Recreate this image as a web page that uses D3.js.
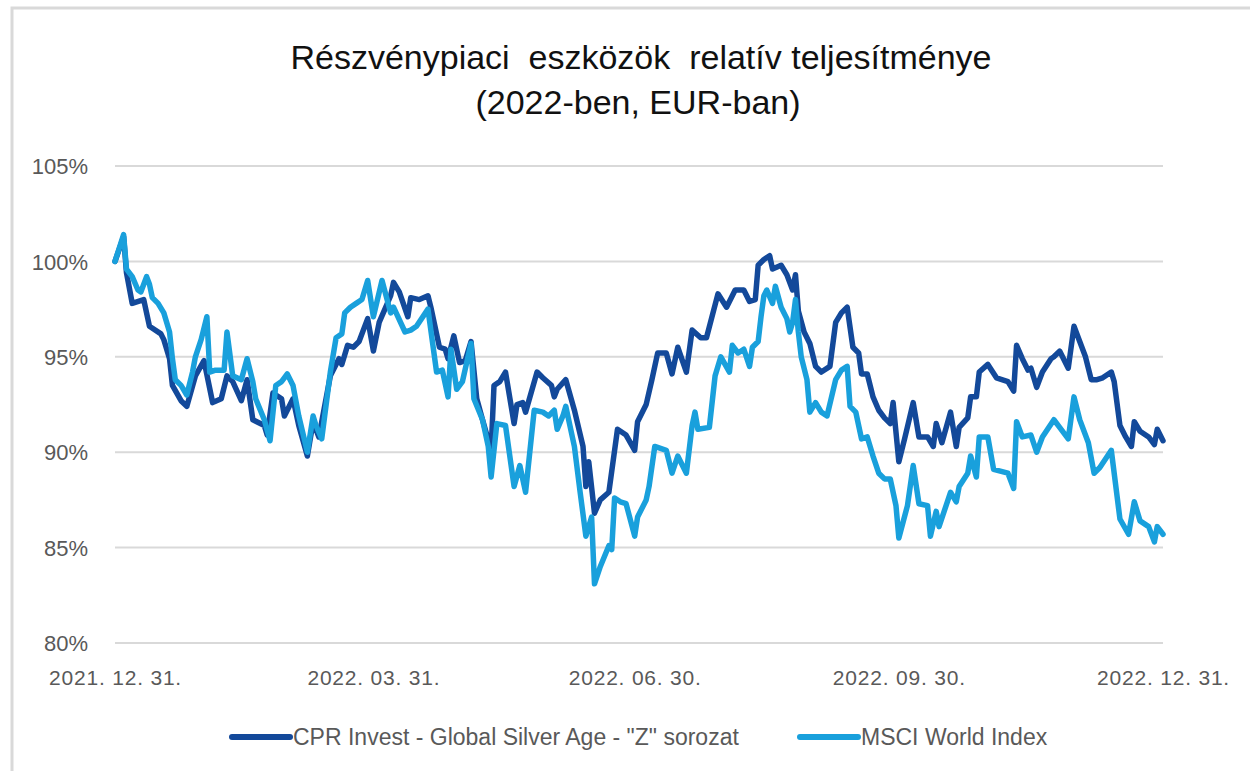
<!DOCTYPE html>
<meta charset="utf-8">
<style>
body { margin: 0; background: #fff; }
svg { font-family: "Liberation Sans", Arial, sans-serif; }
.grid line { stroke: #d9d9d9; stroke-width: 2px; }
.axis text { fill: #595959; font-size: 22px; }
.xaxis text { fill: #595959; font-size: 21px; letter-spacing: 0.8px; }
.title { font-size: 34px; fill: #111; white-space: pre; }
.legend text { fill: #595959; font-size: 23px; }
.line { fill: none; stroke-width: 5.5px; stroke-linejoin: round; stroke-linecap: round; }
</style>
<body>
<script src="https://cdn.jsdelivr.net/npm/d3@7"></script>
<script>

var width = 1250,
    height = 771;

var seriesNames = ["CPR Invest - Global Silver Age - \"Z\" sorozat", "MSCI World Index"],
    seriesColors = ["#13499a", "#19a0dc"];

var yTicks = [80, 85, 90, 95, 100, 105];
var xTicks = ["2021-12-31", "2022-03-31", "2022-06-30", "2022-09-30", "2022-12-31"];

// CPR Invest - Global Silver Age "Z"
var cprDates = ["2021-12-31","2022-01-03","2022-01-04","2022-01-06","2022-01-10","2022-01-12","2022-01-16","2022-01-17","2022-01-19","2022-01-20",
  "2022-01-23","2022-01-25","2022-01-28","2022-01-31","2022-02-03","2022-02-06","2022-02-08","2022-02-10","2022-02-13","2022-02-15",
  "2022-02-17","2022-02-21","2022-02-22","2022-02-24","2022-02-27","2022-02-28","2022-03-03","2022-03-05","2022-03-08","2022-03-10",
  "2022-03-12","2022-03-16","2022-03-19","2022-03-20","2022-03-22","2022-03-24","2022-03-26","2022-03-29","2022-03-31","2022-04-02",
  "2022-04-04","2022-04-06","2022-04-07","2022-04-09","2022-04-12","2022-04-13","2022-04-16","2022-04-19","2022-04-20","2022-04-23",
  "2022-04-25","2022-04-26","2022-04-28","2022-04-30","2022-05-02","2022-05-04","2022-05-06","2022-05-08","2022-05-11","2022-05-12",
  "2022-05-14","2022-05-16","2022-05-19","2022-05-20","2022-05-22","2022-05-23","2022-05-27","2022-05-29","2022-06-01","2022-06-02",
  "2022-06-03","2022-06-06","2022-06-09","2022-06-12","2022-06-13","2022-06-14","2022-06-16","2022-06-18","2022-06-21","2022-06-24",
  "2022-06-27","2022-06-30","2022-07-01","2022-07-04","2022-07-06","2022-07-08","2022-07-11","2022-07-13","2022-07-15","2022-07-18",
  "2022-07-20","2022-07-23","2022-07-25","2022-07-29","2022-08-01","2022-08-04","2022-08-07","2022-08-09","2022-08-11","2022-08-12",
  "2022-08-14","2022-08-16","2022-08-17","2022-08-20","2022-08-22","2022-08-24","2022-08-25","2022-08-26","2022-08-28","2022-08-30",
  "2022-09-01","2022-09-03","2022-09-06","2022-09-08","2022-09-10","2022-09-12","2022-09-14","2022-09-16","2022-09-17","2022-09-19",
  "2022-09-21","2022-09-23","2022-09-25","2022-09-27","2022-09-28","2022-09-30","2022-10-02","2022-10-05","2022-10-07","2022-10-10",
  "2022-10-12","2022-10-13","2022-10-15","2022-10-18","2022-10-20","2022-10-21","2022-10-24","2022-10-25","2022-10-27","2022-10-28",
  "2022-10-31","2022-11-03","2022-11-07","2022-11-09","2022-11-10","2022-11-12","2022-11-14","2022-11-15","2022-11-17","2022-11-19",
  "2022-11-22","2022-11-23","2022-11-25","2022-11-28","2022-11-30","2022-12-02","2022-12-04","2022-12-06","2022-12-08","2022-12-10",
  "2022-12-13","2022-12-14","2022-12-16","2022-12-18","2022-12-20","2022-12-21","2022-12-23","2022-12-26","2022-12-28","2022-12-29",
  "2022-12-31"];
var cprValues = [100.0,101.3,99.4,97.8,98.0,96.6,96.2,95.9,94.9,93.5,
  92.7,92.4,94.0,94.8,92.6,92.8,94.0,93.7,92.7,93.8,
  91.7,91.4,90.9,93.1,92.8,91.9,92.8,91.4,89.8,91.6,
  90.8,94.0,94.9,94.6,95.6,95.5,95.8,97.0,95.3,96.8,
  97.5,98.2,98.9,98.4,97.1,98.1,98.0,98.2,97.6,95.5,
  95.4,94.9,96.1,94.7,94.8,95.8,92.8,91.7,90.1,93.5,
  93.7,94.2,91.5,92.5,92.6,92.1,94.2,93.9,93.5,92.9,
  93.3,93.8,92.2,90.3,88.2,89.5,86.8,87.5,87.9,91.2,
  90.9,90.1,91.6,92.5,93.8,95.2,95.2,94.1,95.5,94.2,
  96.4,96.0,96.0,98.3,97.6,98.5,98.5,97.9,98.0,99.8,
  100.1,100.3,99.6,99.8,99.3,98.5,99.3,97.4,96.3,95.7,
  94.5,94.2,94.5,96.8,97.3,97.6,95.5,95.2,94.1,94.1,
  92.9,92.2,91.8,91.5,92.6,89.5,90.7,92.6,90.8,90.8,
  90.3,91.5,90.5,92.1,90.3,91.3,91.8,92.9,92.9,94.2,
  94.6,93.9,93.7,93.2,95.6,94.9,94.3,94.4,93.4,94.2,
  94.9,95.0,95.3,94.4,96.6,95.8,95.0,93.8,93.8,93.9,
  94.2,93.7,91.4,90.8,90.3,91.6,91.1,90.8,90.4,91.2,
  90.6];

// MSCI World Index
var msciDates = ["2021-12-31","2022-01-03","2022-01-04","2022-01-06","2022-01-08","2022-01-09","2022-01-11","2022-01-12","2022-01-13","2022-01-15",
  "2022-01-17","2022-01-19","2022-01-20","2022-01-21","2022-01-23","2022-01-25","2022-01-27","2022-01-28","2022-01-30","2022-02-01",
  "2022-02-02","2022-02-04","2022-02-07","2022-02-08","2022-02-10","2022-02-13","2022-02-15","2022-02-17","2022-02-18","2022-02-21",
  "2022-02-23","2022-02-25","2022-02-27","2022-03-01","2022-03-03","2022-03-05","2022-03-08","2022-03-10","2022-03-11","2022-03-13",
  "2022-03-16","2022-03-18","2022-03-20","2022-03-21","2022-03-23","2022-03-25","2022-03-27","2022-03-29","2022-03-31","2022-04-03",
  "2022-04-06","2022-04-07","2022-04-11","2022-04-13","2022-04-15","2022-04-19","2022-04-22","2022-04-24","2022-04-26","2022-04-27",
  "2022-04-29","2022-05-01","2022-05-04","2022-05-05","2022-05-08","2022-05-10","2022-05-11","2022-05-13","2022-05-16","2022-05-19",
  "2022-05-21","2022-05-23","2022-05-26","2022-05-29","2022-05-31","2022-06-02","2022-06-03","2022-06-05","2022-06-06","2022-06-09",
  "2022-06-11","2022-06-13","2022-06-15","2022-06-16","2022-06-18","2022-06-21","2022-06-22","2022-06-23","2022-06-25","2022-06-27",
  "2022-06-30","2022-07-01","2022-07-04","2022-07-05","2022-07-07","2022-07-11","2022-07-13","2022-07-15","2022-07-18","2022-07-20",
  "2022-07-21","2022-07-22","2022-07-26","2022-07-28","2022-07-30","2022-08-02","2022-08-03","2022-08-05","2022-08-07","2022-08-09",
  "2022-08-10","2022-08-12","2022-08-13","2022-08-14","2022-08-15","2022-08-17","2022-08-18","2022-08-20","2022-08-22","2022-08-23",
  "2022-08-24","2022-08-25","2022-08-26","2022-08-27","2022-08-29","2022-08-30","2022-09-01","2022-09-03","2022-09-05","2022-09-08",
  "2022-09-10","2022-09-12","2022-09-13","2022-09-15","2022-09-17","2022-09-19","2022-09-21","2022-09-23","2022-09-25","2022-09-27",
  "2022-09-29","2022-09-30","2022-10-03","2022-10-05","2022-10-07","2022-10-10","2022-10-11","2022-10-13","2022-10-14","2022-10-18",
  "2022-10-20","2022-10-21","2022-10-24","2022-10-25","2022-10-27","2022-10-28","2022-10-31","2022-11-02","2022-11-07","2022-11-09",
  "2022-11-10","2022-11-12","2022-11-15","2022-11-17","2022-11-19","2022-11-23","2022-11-25","2022-11-28","2022-11-30","2022-12-02",
  "2022-12-05","2022-12-07","2022-12-09","2022-12-13","2022-12-16","2022-12-19","2022-12-21","2022-12-23","2022-12-26","2022-12-28",
  "2022-12-29","2022-12-31"];
var msciValues = [100.0,101.4,99.6,99.2,98.5,98.4,99.2,98.8,98.1,97.8,
  97.3,96.3,94.9,93.8,93.5,93.0,94.2,95.0,95.9,97.1,
  94.2,94.3,94.3,96.3,94.0,93.8,94.9,93.7,92.8,91.7,
  90.6,93.5,93.7,94.1,93.5,91.9,90.0,91.9,91.4,90.7,
  94.2,96.0,96.2,97.3,97.6,97.8,98.0,99.0,97.1,99.0,
  97.3,97.6,96.3,96.4,96.6,97.5,94.2,94.3,92.9,95.4,
  93.3,93.7,95.7,92.8,91.7,90.3,88.7,91.5,91.4,88.2,
  89.3,87.9,92.2,92.1,91.9,92.2,91.2,91.9,92.4,90.3,
  87.9,85.6,86.6,83.1,84.0,85.1,84.9,87.6,87.4,87.3,
  85.6,86.6,87.5,88.2,90.3,90.1,88.9,89.8,88.9,91.4,
  92.1,91.2,91.3,94.0,95.0,94.2,95.6,95.2,95.4,94.5,
  95.5,95.8,97.1,98.2,98.5,97.8,98.7,97.6,97.0,96.3,
  96.8,98.0,96.3,95.0,93.8,92.1,92.6,92.1,91.9,93.8,
  94.3,94.5,92.4,92.1,90.7,90.8,89.8,88.9,88.6,88.6,
  87.2,85.5,87.2,89.3,87.3,87.2,85.6,86.9,86.1,87.9,
  87.4,88.2,88.9,89.8,88.7,90.8,90.8,89.1,88.9,88.1,
  91.6,90.8,90.9,90.0,90.8,91.7,91.3,90.7,92.9,91.7,
  90.5,88.9,89.2,90.1,86.5,85.7,87.4,86.4,86.1,85.3,
  86.1,85.7];

var parseDate = d3.timeParse("%Y-%m-%d");
var fmtDate = d3.timeFormat("%Y. %m. %d.");

var x = d3.scaleTime()
    .domain([parseDate("2021-12-31"), parseDate("2022-12-31")])
    .range([115, 1163]);

var y = d3.scaleLinear()
    .domain([80, 105])
    .range([643, 166]);

var svg = d3.select("body").append("svg")
    .attr("width", width)
    .attr("height", height);

// chart frame (only top and left edges show)
svg.append("path")
    .attr("d", "M12,771V8H1250")
    .attr("fill", "none")
    .attr("stroke", "#d9d9d9")
    .attr("stroke-width", 3);

svg.append("text")
    .attr("class", "title")
    .attr("x", 641)
    .attr("y", 69)
    .attr("text-anchor", "middle")
    .text("Részvénypiaci  eszközök  relatív teljesítménye");

svg.append("text")
    .attr("class", "title")
    .attr("x", 638)
    .attr("y", 114)
    .attr("text-anchor", "middle")
    .text("(2022-ben, EUR-ban)");

// gridlines
svg.append("g")
    .attr("class", "grid")
    .selectAll("line")
    .data(yTicks)
  .enter().append("line")
    .attr("x1", x.range()[0])
    .attr("x2", x.range()[1])
    .attr("y1", function(d) { return y(d); })
    .attr("y2", function(d) { return y(d); });

var yAxis = svg.append("g")
    .attr("class", "axis")
    .attr("transform", "translate(" + (x.range()[0] - 24) + ",0)")
    .call(d3.axisLeft(y).tickValues(yTicks).tickSize(0).tickFormat(function(d) { return d + "%"; }));
yAxis.select(".domain").remove();
yAxis.selectAll("text").attr("dy", "0.35em");

var xAxis = svg.append("g")
    .attr("class", "xaxis")
    .attr("transform", "translate(0," + y(80) + ")")
    .call(d3.axisBottom(x).tickValues(xTicks.map(parseDate)).tickSize(0).tickFormat(fmtDate));
xAxis.select(".domain").remove();
xAxis.selectAll("text").attr("dy", "1.85em");

var line = d3.line()
    .x(function(d) { return x(d[0]); })
    .y(function(d) { return y(d[1]); });

var series = [
  d3.zip(cprDates.map(parseDate), cprValues),
  d3.zip(msciDates.map(parseDate), msciValues)
];

svg.selectAll(".line")
    .data(series)
  .enter().append("path")
    .attr("class", "line")
    .attr("stroke", function(d, i) { return seriesColors[i]; })
    .attr("d", line);

// legend
var legendX = [230, 798];
var legend = svg.append("g")
    .attr("class", "legend")
    .selectAll("g")
    .data(seriesNames)
  .enter().append("g")
    .attr("transform", function(d, i) { return "translate(" + legendX[i] + ",737)"; });

legend.append("line")
    .attr("x1", 2)
    .attr("x2", 60)
    .attr("stroke", function(d, i) { return seriesColors[i]; })
    .attr("stroke-width", 6)
    .attr("stroke-linecap", "round");

legend.append("text")
    .attr("x", 63)
    .attr("dy", "0.36em")
    .text(function(d) { return d; });

</script>
